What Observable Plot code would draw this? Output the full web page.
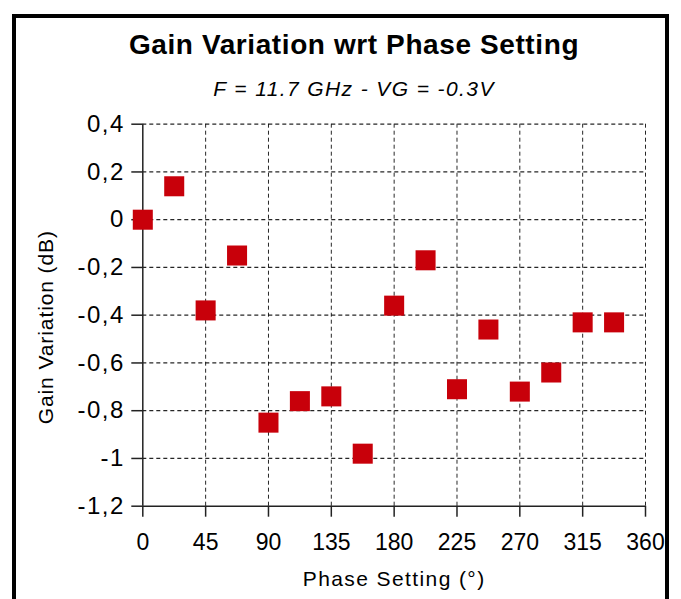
<!DOCTYPE html>
<html>
<head>
<meta charset="utf-8">
<script src="https://cdn.jsdelivr.net/npm/d3@7"></script>
<script src="https://cdn.jsdelivr.net/npm/@observablehq/plot@0.6"></script>
<style>
  html, body { margin: 0; padding: 0; background: #fff; width: 681px; height: 599px; overflow: hidden; }
  body { position: relative; font-family: "Liberation Sans", Arial, sans-serif; }
  #frame { position: absolute; left: 12px; top: 14px; width: 649px; height: 620px; border: 4px solid #000; box-sizing: content-box; }
  #title { position: absolute; left: 104px; width: 500px; top: 29px; text-align: center; font-weight: bold; font-size: 28px; letter-spacing: 0.6px; color: #000; white-space: nowrap; line-height: 1.15; }
  #subtitle { position: absolute; left: 154px; width: 400px; top: 77px; text-align: center; font-style: italic; font-size: 21px; letter-spacing: 1.4px; color: #000; white-space: nowrap; line-height: 1.15; }
  #chart { position: absolute; left: 0; top: 110px; }
</style>
</head>
<body>
<div id="frame"></div>
<div id="title">Gain Variation wrt Phase Setting</div>
<div id="subtitle">F = 11.7 GHz - VG = -0.3V</div>
<div id="chart"></div>
<script>
// Data
const phases = [0, 22.5, 45, 67.5, 90, 112.5, 135, 157.5, 180, 202.5, 225, 247.5, 270, 292.5, 315, 337.5];
const gains  = [0, 0.14, -0.38, -0.15, -0.85, -0.76, -0.74, -0.98, -0.36, -0.17, -0.71, -0.46, -0.72, -0.64, -0.43, -0.43];
const xTicks = [0, 45, 90, 135, 180, 225, 270, 315, 360];
const yTicks = [0.4, 0.2, 0, -0.2, -0.4, -0.6, -0.8, -1, -1.2];
const xLabel = "Phase Setting (°)";
const yLabel = "Gain Variation (dB)";

const data = phases.map((p, i) => ({phase: p, gain: gains[i]}));
const fmtY = d => String(+d.toFixed(1)).replace(".", ",");
const font = "Liberation Sans, Arial, sans-serif";

const chart = Plot.plot({
  width: 681,
  height: 489,
  marginLeft: 142.3,
  marginRight: 36,
  marginTop: 13.7,
  marginBottom: 93.3,
  style: {fontFamily: font, background: "transparent", overflow: "visible"},
  x: {domain: [0, 360]},
  y: {domain: [-1.2, 0.4]},
  marks: [
    Plot.gridX(xTicks.filter(d => d !== 0), {stroke: "#000", strokeOpacity: 0.85, strokeDasharray: "4,3", strokeWidth: 1}),
    Plot.gridY(yTicks.filter(d => d !== -1.2), {stroke: "#000", strokeOpacity: 0.85, strokeDasharray: "4,3", strokeWidth: 1.2}),
    Plot.ruleX([0], {stroke: "#222", strokeWidth: 1.5}),
    Plot.ruleY([-1.2], {stroke: "#222", strokeWidth: 1.5}),
    Plot.axisY({ticks: yTicks, tickFormat: fmtY, tickSize: 11, tickPadding: 7, fontSize: 24, label: null, stroke: "#222", strokeWidth: 1.5, fill: "#000"}),
    Plot.axisX({ticks: xTicks, tickFormat: d => String(d), tickSize: 11, tickPadding: 16, fontSize: 23, label: null, stroke: "#222", strokeWidth: 1.5, fill: "#000"}),
    Plot.text([yLabel], {frameAnchor: "left", rotate: -90, dx: -97, dy: 12, fontSize: 21, fill: "#000", textAnchor: "middle"}),
    Plot.text([xLabel], {frameAnchor: "bottom", dy: 73, fontSize: 21, fill: "#000", textAnchor: "middle", lineAnchor: "middle"}),
    Plot.dot(data, {x: "phase", y: "gain", symbol: "square", r: 11.3, fill: "#C8000A", stroke: "none"})
  ]
});
d3.select(chart).selectAll("text")
  .filter(function() { return this.textContent === xLabel; })
  .attr("letter-spacing", "1.4px");
d3.select(chart).selectAll("text")
  .filter(function() { return this.textContent === yLabel; })
  .attr("letter-spacing", "0.9px");
d3.select(chart).selectAll('g[aria-label="y-axis tick label"] text')
  .attr("letter-spacing", "1.5px");
document.getElementById("chart").appendChild(chart);
</script>
</body>
</html>
